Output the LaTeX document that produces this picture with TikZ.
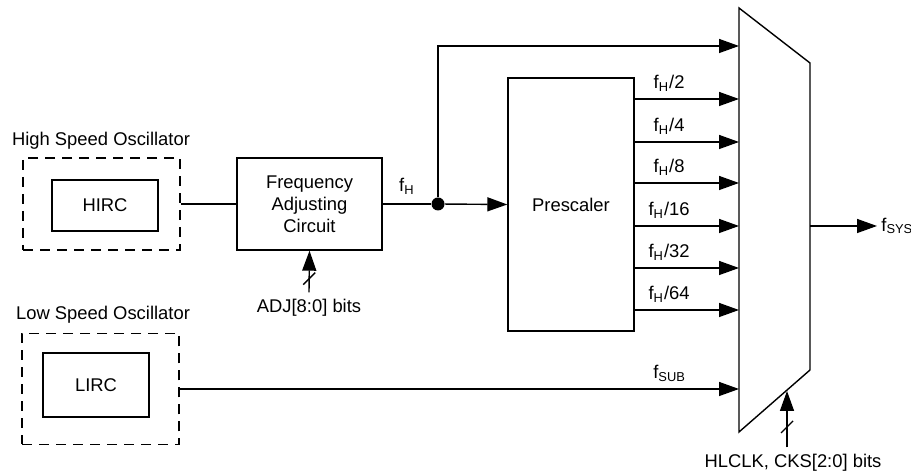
\documentclass[tikz,border=0pt]{standalone}
\usepackage{fontspec}
\setmainfont{Liberation Sans}
\usetikzlibrary{arrows.meta, positioning, calc}
\newcommand{\fq}[1]{f\textsubscript{#1}}

\begin{document}
\begin{tikzpicture}[x=0.5pt, y=-0.5pt,
        font=\fontsize{9.2}{11}\selectfont,
        blockbox/.style={rectangle, draw=black, line width=0.7pt, align=center, inner sep=0pt},
        oscbox/.style={rectangle, draw=black, line width=0.7pt, dash pattern=on 5pt off 3.5pt},
        wire/.style={line width=0.7pt},
        sig/.style={wire, -{Triangle[length=10pt, width=7pt]}},
        junction/.style={circle, fill=black, minimum size=6.5pt, inner sep=0pt}
    ]
        \useasboundingbox (0,0) rectangle (911,474);

        % oscillators
        \node[oscbox, minimum width=78.5pt, minimum height=46pt] (hosc) at (101.5,204) {};
        \node[blockbox, minimum width=53pt, minimum height=25.5pt] (hirc) at (105,205.5) {HIRC};
        \node (hlabel) at (101,141) {High Speed Oscillator};
        \node[oscbox, minimum width=78.5pt, minimum height=55.5pt] (losc) at (100.5,389) {};
        \node[blockbox, minimum width=53pt, minimum height=32pt] (lirc) at (96,385) {LIRC};
        \node (llabel) at (103,315) {Low Speed Oscillator};

        % frequency adjust and prescaler
        \node[blockbox, minimum width=72.5pt, minimum height=46pt] (fac) at (309.5,204) {Frequency\\Adjusting\\Circuit};
        \node (adj) at (309,308) {ADJ[8:0] bits};
        \node[junction] (split) at (438,204) {};
        \node[blockbox, minimum width=63pt, minimum height=126.5pt] (pre) at (571,204.5) {Prescaler};

        % clock multiplexer
        \coordinate (mtl) at (739,8);
        \coordinate (mtr) at (810,63);
        \coordinate (mbr) at (810,370);
        \coordinate (mbl) at (739,432);
        \draw[wire] (mtl) -- (mtr) -- (mbr) -- (mbl) -- cycle;
        \coordinate (mtop) at (739,46);
        \coordinate (msub) at (739,389);
        \coordinate (mout) at (810,226);
        \coordinate (mctl) at (787,391);
        \node[anchor=west, inner sep=2pt] (fsys) at (877,226) {\fq{SYS}};
        \node (hlclk) at (793,463) {HLCLK, CKS[2:0] bits};

        \draw[wire] (hosc.east) -- (fac.west);
        \draw[wire] (fac.east) -- (split) node[midway, above=1pt] {\fq{H}};
        \draw[sig] (split) -- (pre.west);
        \draw[sig] (split) |- (mtop);
        \foreach \y/\d [count=\i] in {99/2, 142/4, 183/8, 226/16, 268/32, 310/64} {
            \coordinate (min\i) at (739,\y);
            \draw[sig] (pre.east |- min\i) -- (min\i) node[pos=0.33, above] {\fq{H}/\d};
        }
        \draw[sig] (losc.east |- msub) -- (msub) node[pos=0.876, above] {\fq{SUB}};
        \draw[sig] (mout) -- (fsys.west);

        % select inputs with bus marks
        \draw[sig] (adj.north) -- (fac.south);
        \draw[wire] ($(adj.north)!0.33!(fac.south)$) ++(-6,6) -- ++(12,-12);
        \draw[sig] (mctl |- hlclk.north) -- (mctl);
        \draw[wire] (787,427) ++(-6,6) -- ++(12,-12);
    \end{tikzpicture}
\end{document}
